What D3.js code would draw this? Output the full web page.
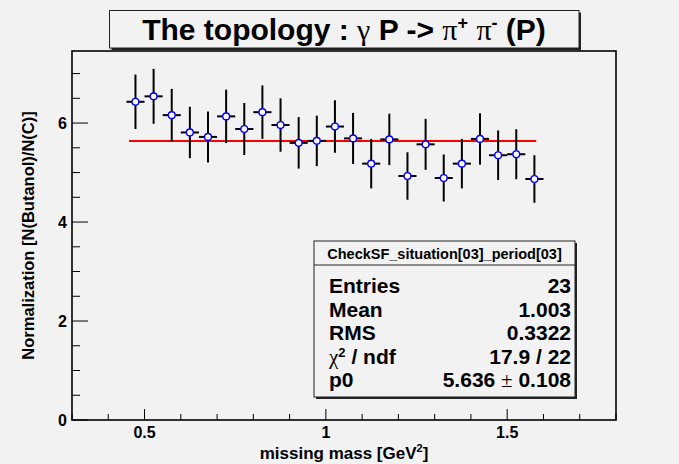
<!DOCTYPE html>
<html><head><meta charset="utf-8">
<script src="https://cdn.jsdelivr.net/npm/d3@7"></script>
<style>body{margin:0;background:#f2f2f2;}svg{display:block;}</style>
</head><body>
<script>
// ---- data ----
const binCenters = [0.475,0.525,0.575,0.625,0.675,0.725,0.775,0.825,0.875,0.925,0.975,1.025,1.075,1.125,1.175,1.225,1.275,1.325,1.375,1.425,1.475,1.525,1.575];
const values = [6.43,6.54,6.16,5.81,5.72,6.135,5.88,6.22,5.96,5.60,5.64,5.93,5.69,5.18,5.67,4.93,5.57,4.89,5.18,5.68,5.35,5.37,4.87];
const errors = [0.55,0.555,0.53,0.52,0.515,0.54,0.525,0.54,0.54,0.52,0.51,0.53,0.515,0.50,0.52,0.48,0.515,0.475,0.50,0.52,0.50,0.505,0.48];
const binHalfWidth = 0.025;
const fitValue = 5.636;
const fitRange = [0.457, 1.58];
const xDomain = [0.3, 1.8];
const yDomain = [0, 7.456];
const xMajorTicks = [0.5, 1, 1.5];
const xTickLabels = ["0.5", "1", "1.5"];
const yMajorTicks = [0, 2, 4, 6];
const yTickLabels = ["0", "2", "4", "6"];
const statsLabels = ["Entries", "Mean", "RMS", "chi2", "p0"];
const statsValues = ["23", "1.003", "0.3322", "17.9 / 22", "5.636 \u00b1 0.108"];
const statsTitle = "CheckSF_situation[03]_period[03]";

const W = 679, H = 464;
const F = "'Liberation Sans', Arial, Helvetica, sans-serif";
const FS = "'Liberation Serif', 'Times New Roman', serif";
const svg = d3.select("body").append("svg").attr("width", W).attr("height", H);
svg.append("rect").attr("width", W).attr("height", H).attr("fill", "#f2f2f2");

const L = 72, R = 616, T = 51, B = 420;
const x = d3.scaleLinear().domain(xDomain).range([L, R]);
const y = d3.scaleLinear().domain(yDomain).range([B, T]);

// ticks
const g = svg.append("g");
const xMinor = d3.range(0.3, 1.8001, 0.1).filter(v => !xMajorTicks.some(m => Math.abs(m - v) < 1e-6));
const yMinor = d3.range(0, 7.4, 0.5).filter(v => !yMajorTicks.some(m => Math.abs(m - v) < 1e-6));
xMajorTicks.forEach(v => g.append("line").attr("x1", x(v)).attr("x2", x(v)).attr("y1", B).attr("y2", B - 11).attr("stroke", "#000").attr("stroke-width", 1));
xMinor.forEach(v => g.append("line").attr("x1", x(v)).attr("x2", x(v)).attr("y1", B).attr("y2", B - 6).attr("stroke", "#000").attr("stroke-width", 1));
yMajorTicks.forEach(v => g.append("line").attr("x1", L).attr("x2", L + 16).attr("y1", y(v)).attr("y2", y(v)).attr("stroke", "#000").attr("stroke-width", 1));
yMinor.forEach(v => g.append("line").attr("x1", L).attr("x2", L + 8).attr("y1", y(v)).attr("y2", y(v)).attr("stroke", "#000").attr("stroke-width", 1));

// frame
svg.append("rect").attr("x", L).attr("y", T).attr("width", R - L).attr("height", B - T)
  .attr("fill", "none").attr("stroke", "#000").attr("stroke-width", 1.6);

// tick labels
xMajorTicks.forEach((v, i) => svg.append("text").attr("x", x(v)).attr("y", 438).attr("text-anchor", "middle")
  .attr("font-family", F).attr("font-weight", "bold").attr("font-size", 16).text(xTickLabels[i]));
yMajorTicks.forEach((v, i) => svg.append("text").attr("x", 67).attr("y", y(v) + 6).attr("text-anchor", "end")
  .attr("font-family", F).attr("font-weight", "bold").attr("font-size", 16).text(yTickLabels[i]));

// axis titles
const xt = svg.append("text").attr("x", (L + R) / 2).attr("y", 459).attr("text-anchor", "middle")
  .attr("font-family", F).attr("font-weight", "bold").attr("font-size", 17);
xt.append("tspan").text("missing mass [GeV");
xt.append("tspan").attr("font-size", 11).attr("dy", -7).text("2");
xt.append("tspan").attr("dy", 7).text("]");
svg.append("text").attr("transform", `translate(34,${(T + B) / 2}) rotate(-90)`).attr("text-anchor", "middle")
  .attr("font-family", F).attr("font-weight", "bold").attr("font-size", 16.5).text("Normalization [N(Butanol)/N(C)]");

// fit line
svg.append("line").attr("x1", x(fitRange[0])).attr("x2", x(fitRange[1])).attr("y1", y(fitValue)).attr("y2", y(fitValue))
  .attr("stroke", "#ff0000").attr("stroke-width", 2);

// error bars and markers
const pts = svg.append("g");
binCenters.forEach((c, i) => {
  pts.append("line").attr("x1", x(c)).attr("x2", x(c)).attr("y1", y(values[i] - errors[i])).attr("y2", y(values[i] + errors[i]))
    .attr("stroke", "#000").attr("stroke-width", 2);
  pts.append("line").attr("x1", x(c - binHalfWidth)).attr("x2", x(c + binHalfWidth)).attr("y1", y(values[i])).attr("y2", y(values[i]))
    .attr("stroke", "#000").attr("stroke-width", 2);
});
binCenters.forEach((c, i) => {
  pts.append("circle").attr("cx", x(c)).attr("cy", y(values[i])).attr("r", 3.4)
    .attr("fill", "#fff").attr("stroke", "#0000ff").attr("stroke-width", 1.4);
});

// title box
const tb = {x0: 109.5, y0: 10.5, x1: 579, y1: 48};
svg.append("rect").attr("x", tb.x0 + 2).attr("y", tb.y0 + 2).attr("width", tb.x1 - tb.x0).attr("height", tb.y1 - tb.y0).attr("fill", "#222");
svg.append("rect").attr("x", tb.x0).attr("y", tb.y0).attr("width", tb.x1 - tb.x0).attr("height", tb.y1 - tb.y0)
  .attr("fill", "#f2f2f2").attr("stroke", "#222").attr("stroke-width", 1);
const tt = svg.append("text").attr("x", 344).attr("y", 40).attr("text-anchor", "middle")
  .attr("font-family", F).attr("font-weight", "bold").attr("font-size", 30);
tt.append("tspan").text("The topology : ");
tt.append("tspan").attr("font-family", FS).attr("font-weight", "normal").text("\u03b3");
tt.append("tspan").text(" P -> ");
tt.append("tspan").attr("font-family", FS).attr("font-weight", "normal").text("\u03c0");
tt.append("tspan").attr("font-size", 18).attr("dy", -11).text("+");
tt.append("tspan").attr("dy", 11).text(" ");
tt.append("tspan").attr("font-family", FS).attr("font-weight", "normal").text("\u03c0");
tt.append("tspan").attr("font-size", 18).attr("dy", -11).text("-");
tt.append("tspan").attr("dy", 11).text(" (P)");

// stats box
const sb = {x0: 314, y0: 241, x1: 575, y1: 397};
svg.append("rect").attr("x", sb.x0 + 2).attr("y", sb.y0 + 2).attr("width", sb.x1 - sb.x0).attr("height", sb.y1 - sb.y0).attr("fill", "#222");
svg.append("rect").attr("x", sb.x0).attr("y", sb.y0).attr("width", sb.x1 - sb.x0).attr("height", sb.y1 - sb.y0)
  .attr("fill", "#f2f2f2").attr("stroke", "#222").attr("stroke-width", 1);
svg.append("line").attr("x1", sb.x0).attr("x2", sb.x1).attr("y1", 265).attr("y2", 265).attr("stroke", "#222").attr("stroke-width", 1);
svg.append("text").attr("x", (sb.x0 + sb.x1) / 2).attr("y", 258.5).attr("text-anchor", "middle")
  .attr("font-family", F).attr("font-weight", "bold").attr("font-size", 14.5).text(statsTitle);
const rowBase = [293, 316.5, 340, 363.5, 387];
statsLabels.forEach((lab, i) => {
  const t = svg.append("text").attr("x", 329).attr("y", rowBase[i]).attr("font-family", F).attr("font-weight", "bold").attr("font-size", 21);
  if (lab === "chi2") {
    t.append("tspan").attr("font-family", FS).attr("font-weight", "normal").text("\u03c7");
    t.append("tspan").attr("font-size", 13).attr("dy", -7).text("2");
    t.append("tspan").attr("dy", 7).text(" / ndf");
  } else t.text(lab);
  const v = svg.append("text").attr("x", 571).attr("y", rowBase[i]).attr("text-anchor", "end")
    .attr("font-family", F).attr("font-weight", "bold").attr("font-size", 21);
  if (statsValues[i].includes("\u00b1")) {
    const parts = statsValues[i].split(" \u00b1 ");
    v.append("tspan").text(parts[0] + " ");
    v.append("tspan").attr("font-family", FS).attr("font-weight", "normal").text("\u00b1");
    v.append("tspan").text(" " + parts[1]);
  } else v.text(statsValues[i]);
});
</script>
</body></html>
